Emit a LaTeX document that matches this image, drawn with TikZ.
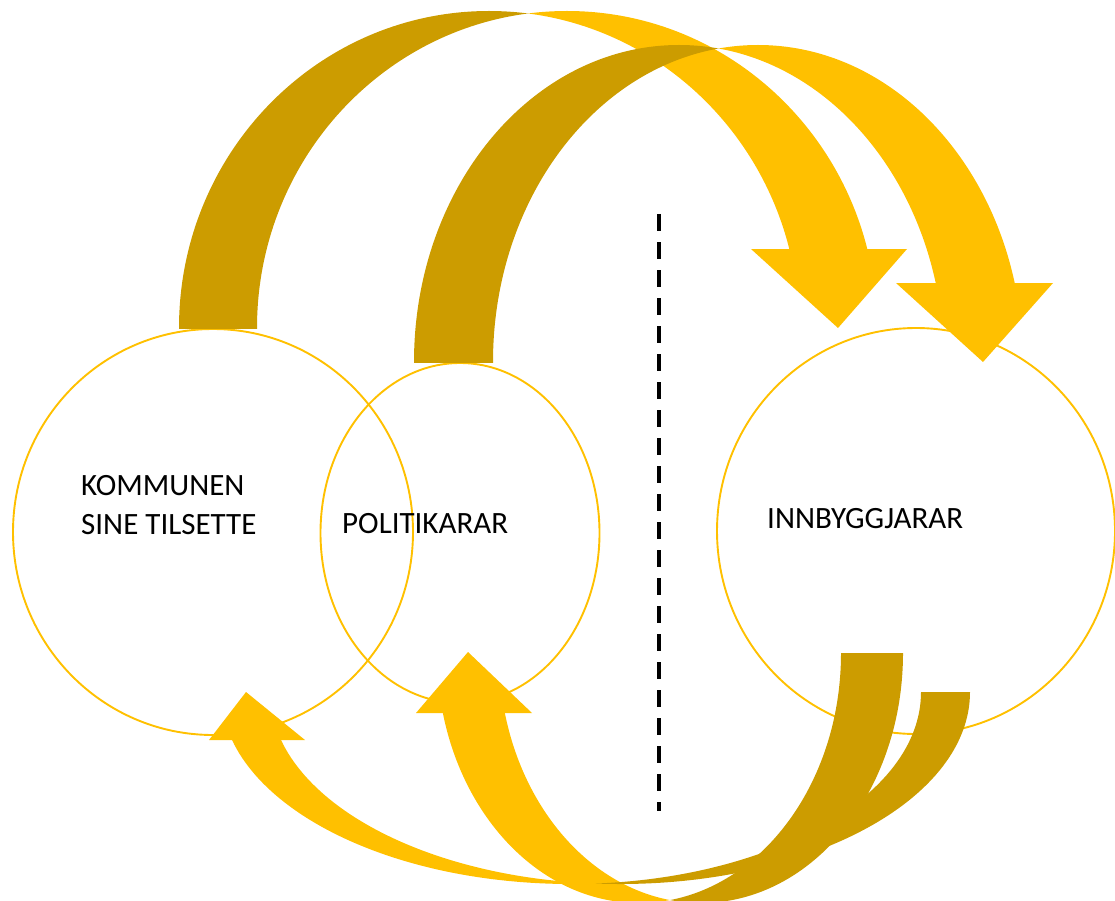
\documentclass[tikz,border=0pt]{standalone}
\usepackage{fontspec}
\setmainfont{Carlito}
\usetikzlibrary{shapes.geometric}
\definecolor{gold}{RGB}{255,192,0}
\definecolor{darkgold}{RGB}{204,156,0}
\tikzset{
  ring/.style={draw=gold,line width=1.9pt,ellipse,inner sep=0pt},
  word/.style={inner sep=0pt,anchor=base west,align=left,font=\fontsize{31}{39}\selectfont},
  back/.style={fill=darkgold,even odd rule},
  front/.style={fill=gold,even odd rule},
}
\begin{document}
\begin{tikzpicture}[x=1pt,y=-1pt]
        %% Frame
        \useasboundingbox (0,0) rectangle (1115,901);
        \clip (0,0) rectangle (1115,901);
        %% Circles
        \node[ring,minimum width=400pt,minimum height=406pt] (tilsette) at (213,532) {};
        \node[ring,minimum width=279pt,minimum height=340pt] (politikarar) at (460,533) {};
        \node[ring,minimum width=398pt,minimum height=406pt] (innbyggjarar) at (916,531) {};
        %% Labels
        \node[word] (tilsettetxt) at (81,534) {KOMMUNEN\\SINE TILSETTE};
        \node[word] (politikarartxt) at (342,533) {POLITIKARAR};
        \node[word] (innbyggjarartxt) at (767,528) {INNBYGGJARAR};
        %% Divider
        \coordinate (divtop) at (659,214);
        \coordinate (divbot) at (659,811);
        \draw[line width=3.5pt,dash pattern=on 17pt off 11pt] (divtop) -- (divbot);
        %% Upper arrow, outer
        \begin{scope}
          \clip (170,0) rectangle (528,328);
          \fill[back] (489,328) ellipse [x radius=310pt,y radius=317pt] (567,328) ellipse [x radius=310pt,y radius=317pt];
        \end{scope}
        \begin{scope}
          \clip (528,0) rectangle (890,249);
          \fill[front] (489,328) ellipse [x radius=310pt,y radius=317pt] (567,328) ellipse [x radius=310pt,y radius=317pt];
        \end{scope}
        \fill[gold] (751,249) -- (838,328) -- (907,249) -- cycle;
        %% Upper arrow, inner
        \begin{scope}
          \clip (400,0) rectangle (718.5,362);
          \fill[back] (679,362) ellipse [x radius=265pt,y radius=317pt] (758,362) ellipse [x radius=265pt,y radius=317pt];
        \end{scope}
        \begin{scope}
          \clip (718.5,0) rectangle (1030,283);
          \fill[front] (679,362) ellipse [x radius=265pt,y radius=317pt] (758,362) ellipse [x radius=265pt,y radius=317pt];
        \end{scope}
        \fill[gold] (896,283) -- (983,362) -- (1053,283) -- cycle;
        %% Lower arrow, inner
        \begin{scope}
          \clip (670,653) rectangle (910,910);
          \fill[back] (701,653) ellipse [x radius=202pt,y radius=250pt] (639,653) ellipse [x radius=202pt,y radius=250pt];
        \end{scope}
        \begin{scope}
          \clip (430,713) rectangle (670,910);
          \fill[front] (701,653) ellipse [x radius=202pt,y radius=250pt] (639,653) ellipse [x radius=202pt,y radius=250pt];
        \end{scope}
        \fill[gold] (416,713) -- (468,652) -- (532,713) -- cycle;
        %% Lower arrow, outer
        \begin{scope}
          \clip (595.5,692) rectangle (975,900);
          \fill[back] (620,692) ellipse [x radius=350pt,y radius=192pt] (571,692) ellipse [x radius=350pt,y radius=192pt];
        \end{scope}
        \begin{scope}
          \clip (215,740) rectangle (595.5,900);
          \fill[front] (620,692) ellipse [x radius=350pt,y radius=192pt] (571,692) ellipse [x radius=350pt,y radius=192pt];
        \end{scope}
        \fill[gold] (209,740) -- (246,692) -- (305,740) -- cycle;
    \end{tikzpicture}
\end{document}
